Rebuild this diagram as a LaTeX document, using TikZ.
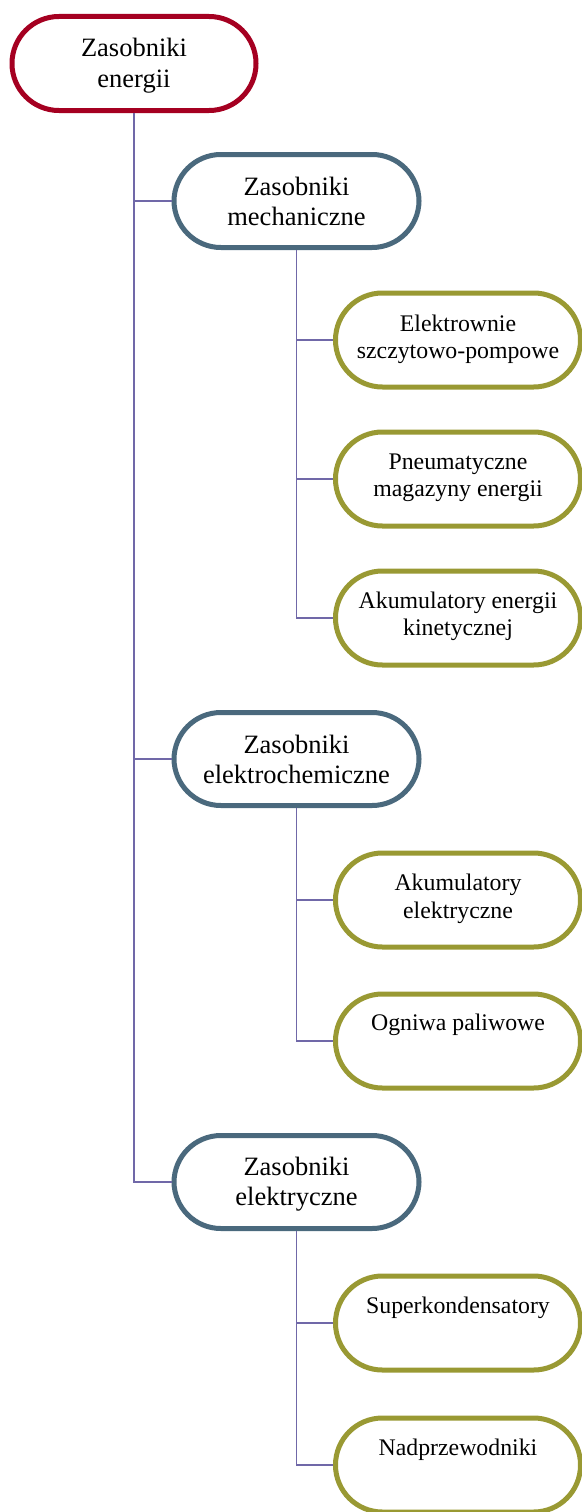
\documentclass[tikz,border=0pt]{standalone}
\usepackage{fontspec}
\setmainfont{Liberation Serif}
\definecolor{rootcol}{RGB}{165,0,33}
\definecolor{midcol}{RGB}{74,105,125}
\definecolor{leafcol}{RGB}{153,153,51}
\definecolor{conncol}{RGB}{112,104,168}
\tikzset{
  boxbase/.style={draw, line width=5pt, fill=white, rectangle, rounded corners=46.9pt,
    minimum width=245pt, minimum height=94pt, inner sep=0pt},
  rootbox/.style={boxbase, draw=rootcol, minimum width=244pt},
  midbox/.style={boxbase, draw=midcol, minimum height=93pt},
  leafbox/.style={boxbase, draw=leafcol},
  bigtxt/.style={align=center, inner sep=0pt, anchor=base, font=\fontsize{26.5}{30}\selectfont},
  smalltxt/.style={align=center, inner sep=0pt, anchor=base, font=\fontsize{23.8}{27.7}\selectfont},
  conn/.style={draw=conncol, line width=1.8pt}
}
\begin{document}
\begin{tikzpicture}[x=1pt,y=-1pt]
\useasboundingbox (0,0) rectangle (581,1512);
\node[rootbox] (root) at (134,63.5) {};
\node[midbox] (mech) at (296.5,201) {};
\node[midbox] (echem) at (296.5,759) {};
\node[midbox] (elec) at (296.5,1182) {};
\node[leafbox] (l1) at (458,340) {};
\node[leafbox] (l2) at (458,479) {};
\node[leafbox] (l3) at (458,618) {};
\node[leafbox] (l4) at (458,900) {};
\node[leafbox] (l5) at (458,1041) {};
\node[leafbox] (l6) at (458,1323) {};
\node[leafbox] (l7) at (458,1465) {};
\draw[conn] (root.south) |- (mech.west);
\draw[conn] (root.south) |- (echem.west);
\draw[conn] (root.south) |- (elec.west);
\draw[conn] (mech.south) |- (l1.west);
\draw[conn] (mech.south) |- (l2.west);
\draw[conn] (mech.south) |- (l3.west);
\draw[conn] (echem.south) |- (l4.west);
\draw[conn] (echem.south) |- (l5.west);
\draw[conn] (elec.south) |- (l6.west);
\draw[conn] (elec.south) |- (l7.west);
\node[bigtxt] (troot) at ([yshift=-23.5pt]root.center) {Zasobniki\\energii};
\node[bigtxt] (tmech) at ([yshift=-24pt]mech.center) {Zasobniki\\mechaniczne};
\node[bigtxt] (techem) at ([yshift=-24pt]echem.center) {Zasobniki\\elektrochemiczne};
\node[bigtxt] (telec) at ([yshift=-23.5pt]elec.center) {Zasobniki\\elektryczne};
\node[smalltxt] (t1) at ([yshift=-18.7pt]l1.center) {Elektrownie\\szczytowo-pompowe};
\node[smalltxt] (t2) at ([yshift=-17.7pt]l2.center) {Pneumatyczne\\magazyny energii};
\node[smalltxt] (t3) at ([yshift=-17.7pt]l3.center) {Akumulatory energii\\kinetycznej};
\node[smalltxt] (t4) at ([yshift=-18.2pt]l4.center) {Akumulatory\\elektryczne};
\node[smalltxt] (t5) at ([yshift=10.5pt]l5.center) {Ogniwa paliwowe};
\node[smalltxt] (t6) at ([yshift=10pt]l6.center) {Superkondensatory};
\node[smalltxt] (t7) at ([yshift=10pt]l7.center) {Nadprzewodniki};
\end{tikzpicture}
\end{document}
